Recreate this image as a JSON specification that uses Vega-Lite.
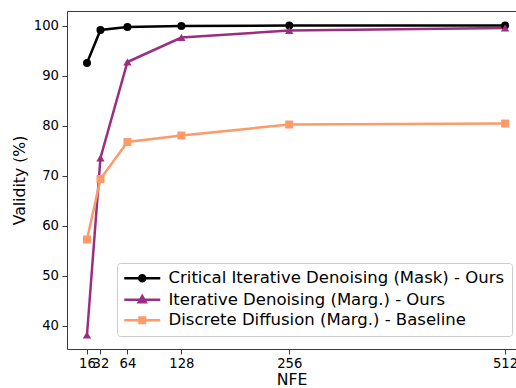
{
  "$schema": "https://vega.github.io/schema/vega-lite/v6.json",
  "autosize": {"type": "none"},
  "padding": {"left": 67, "top": 11, "right": 0, "bottom": 39},
  "width": 449,
  "height": 338,
  "config": {
    "view": {"stroke": null},
    "font": "DejaVu Sans",
    "axis": {
      "domainColor": "#3a3a3a",
      "domainWidth": 1,
      "tickColor": "#3a3a3a",
      "tickSize": 5,
      "tickWidth": 1,
      "labelFont": "DejaVu Sans",
      "labelFontSize": 13.2,
      "labelColor": "#000000",
      "labelPadding": 3.5,
      "labelOverlap": false,
      "labelBound": false,
      "titleFont": "DejaVu Sans",
      "titleFontSize": 15.7,
      "titleFontWeight": "normal",
      "titleColor": "#000000",
      "grid": false
    },
    "legend": {
      "labelFont": "DejaVu Sans",
      "labelFontSize": 16.5,
      "labelColor": "#000000",
      "labelLimit": 500
    }
  },
  "data": {
    "values": [
      {"series": "Critical Iterative Denoising (Mask) - Ours", "nfe": 16, "validity": 92.5},
      {"series": "Critical Iterative Denoising (Mask) - Ours", "nfe": 32, "validity": 99.1},
      {"series": "Critical Iterative Denoising (Mask) - Ours", "nfe": 64, "validity": 99.7},
      {"series": "Critical Iterative Denoising (Mask) - Ours", "nfe": 128, "validity": 99.9},
      {"series": "Critical Iterative Denoising (Mask) - Ours", "nfe": 256, "validity": 100.0},
      {"series": "Critical Iterative Denoising (Mask) - Ours", "nfe": 512, "validity": 100.0},
      {"series": "Iterative Denoising (Marg.) - Ours", "nfe": 16, "validity": 38.1},
      {"series": "Iterative Denoising (Marg.) - Ours", "nfe": 32, "validity": 73.5},
      {"series": "Iterative Denoising (Marg.) - Ours", "nfe": 64, "validity": 92.7},
      {"series": "Iterative Denoising (Marg.) - Ours", "nfe": 128, "validity": 97.6},
      {"series": "Iterative Denoising (Marg.) - Ours", "nfe": 256, "validity": 99.0},
      {"series": "Iterative Denoising (Marg.) - Ours", "nfe": 512, "validity": 99.5},
      {"series": "Discrete Diffusion (Marg.) - Baseline", "nfe": 16, "validity": 57.2},
      {"series": "Discrete Diffusion (Marg.) - Baseline", "nfe": 32, "validity": 69.3},
      {"series": "Discrete Diffusion (Marg.) - Baseline", "nfe": 64, "validity": 76.7},
      {"series": "Discrete Diffusion (Marg.) - Baseline", "nfe": 128, "validity": 78.0},
      {"series": "Discrete Diffusion (Marg.) - Baseline", "nfe": 256, "validity": 80.2},
      {"series": "Discrete Diffusion (Marg.) - Baseline", "nfe": 512, "validity": 80.4}
    ]
  },
  "encoding": {
    "x": {"field": "nfe", "type": "quantitative", "axis": null},
    "y": {"field": "validity", "type": "quantitative"},
    "color": {"field": "series", "type": "nominal", "legend": null}
  },
  "layer": [
    {
      "mark": {"type": "line", "strokeWidth": 2.5, "clip": true},
      "encoding": {
        "x": {
          "field": "nfe", "type": "quantitative",
          "scale": {"domain": [-7.7, 525.0], "nice": false, "zero": false},
          "axis": {"orient": "top", "labels": false, "ticks": false, "title": null}
        },
        "y": {
          "field": "validity", "type": "quantitative",
          "scale": {"domain": [35.3, 102.9], "nice": false, "zero": false},
          "axis": {"values": [40, 50, 60, 70, 80, 90, 100], "title": "Validity (%)", "titlePadding": 6}
        },
        "color": {
          "field": "series", "type": "nominal",
          "scale": {
            "domain": ["Critical Iterative Denoising (Mask) - Ours", "Iterative Denoising (Marg.) - Ours", "Discrete Diffusion (Marg.) - Baseline"],
            "range": ["#000000", "#9c2e7f", "#fd9a6a"]
          },
          "legend": {
            "title": null,
            "orient": "none",
            "legendX": 50,
            "legendY": 252,
            "fillColor": "rgba(255,255,255,0.8)",
            "strokeColor": "#cccccc",
            "cornerRadius": 3,
            "padding": 7,
            "rowPadding": 3.5,
            "symbolSize": 100,
            "symbolOffset": 10,
            "labelOffset": 18,
            "symbolStrokeWidth": 2.5,
            "encode": {
              "symbols": {
                "update": {
                  "shape": {"signal": "datum.value === 'Critical Iterative Denoising (Mask) - Ours' ? 'M-3.6,0H3.6M-0.6,0A0.6,0.6,0,1,0,0.6,0A0.6,0.6,0,1,0,-0.6,0Z' : datum.value === 'Iterative Denoising (Marg.) - Ours' ? 'M-3.6,0H3.6M0,-0.75L0.7,0.5L-0.7,0.5Z' : 'M-3.6,0H3.6M-0.55,-0.55H0.55V0.55H-0.55Z'"},
                  "fill": {"scale": "color", "field": "value"},
                  "stroke": {"scale": "color", "field": "value"},
                  "strokeWidth": {"value": 2.5},
                  "size": {"value": 100},
                  "opacity": {"value": 1},
                  "fillOpacity": {"value": 1}
                }
              }
            }
          }
        }
      }
    },
    {
      "transform": [{"filter": "datum.series === 'Critical Iterative Denoising (Mask) - Ours'"}],
      "mark": {"type": "point", "shape": "circle", "filled": true, "opacity": 1, "size": 64, "clip": true},
      "encoding": {
        "x": {
          "field": "nfe", "type": "quantitative",
          "axis": {"orient": "bottom", "values": [16, 32, 64, 128, 256, 512], "title": "NFE", "titlePadding": 3}
        }
      }
    },
    {
      "transform": [{"filter": "datum.series === 'Iterative Denoising (Marg.) - Ours'"}],
      "mark": {"type": "point", "shape": "triangle-up", "filled": true, "opacity": 1, "size": 70, "clip": true}
    },
    {
      "transform": [{"filter": "datum.series === 'Discrete Diffusion (Marg.) - Baseline'"}],
      "mark": {"type": "point", "shape": "square", "filled": true, "opacity": 1, "size": 64, "clip": true}
    }
  ],
  "resolve": {"axis": {"x": "independent"}}
}
